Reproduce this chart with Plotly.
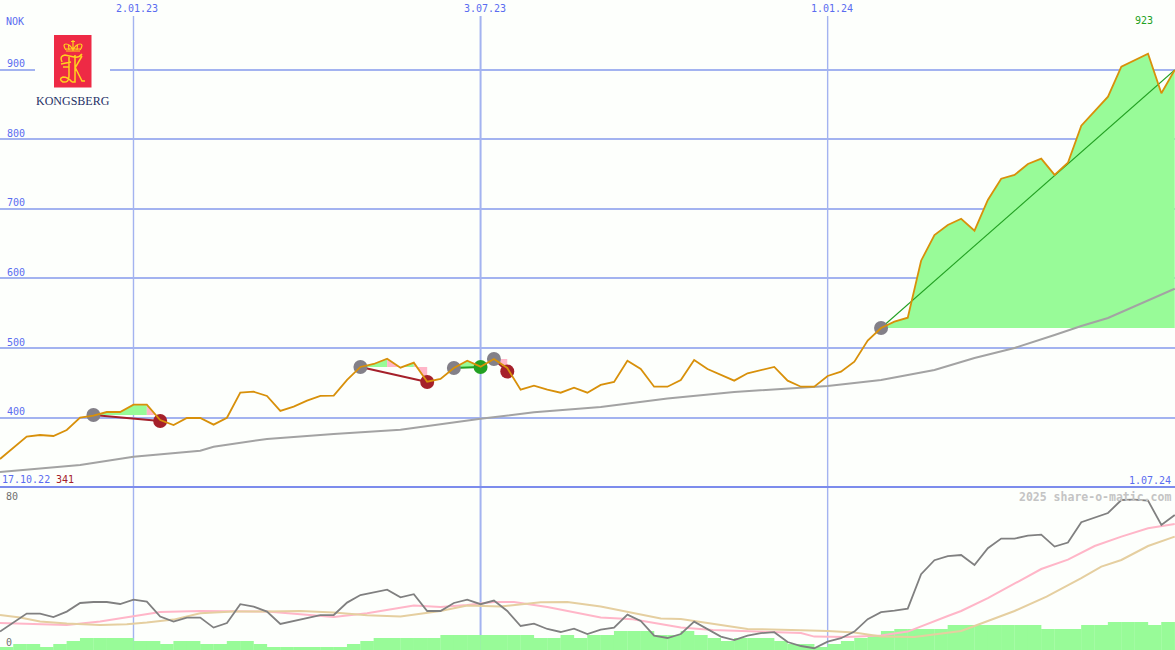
import plotly.graph_objects as go

# ---- data (x = week index, 0 = 17.10.22, 88 = 1.07.24)
price = [340.3,356.1,372.4,374.8,373.4,382.0,399.7,402.6,407.9,407.9,418.4,418.4,396.4,389.2,399.3,399.3,
         389.7,399.7,435.7,437.1,431.0,409.4,415.6,424.2,431.0,431.4,454.0,472.7,477.0,484.6,471.7,478.9,
         451.5,455.4,471.2,481.7,473.1,484.2,471.2,440.0,445.8,440.0,435.7,442.9,435.7,446.8,451.1,481.7,
         469.8,444.3,444.3,453.9,482.8,469.8,461.2,453.0,463.6,468.4,472.7,453.0,444.3,444.3,459.7,465.9,
         480.3,510.6,528.8,537.9,543.6,625.6,662.6,677.0,686.0,668.8,713.0,743.6,749.0,764.8,772.4,749.0,
         766.6,819.9,840.0,861.6,904.7,914.4,923.5,866.5,900.0]
ma_x = [0,6,10,15,16,20,25,30,36,40,45,50,55,62,66,70,73,76,79,81,83,86,88]
ma_y = [321.6,331.7,343.6,352.3,358.0,369.1,376.3,382.5,398.3,407.5,415.0,427.3,436.7,445.3,453.9,468.4,
        485.6,500.0,518.7,531.7,543.2,569.1,585.3]
osc = [9.2,13.9,18.2,18.2,16.5,19.2,23.5,24.0,24.0,23.0,25.2,24.2,16.7,14.2,16.2,16.2,11.2,13.5,22.9,21.7,
       19.2,13.0,14.5,16.2,17.4,17.5,23.7,27.5,29.0,30.2,26.3,27.9,19.5,19.5,23.5,25.2,22.9,24.7,19.5,12.0,
       13.2,10.5,9.0,10.7,8.0,10.2,11.2,17.7,14.5,7.2,6.0,8.0,14.2,10.5,6.7,5.0,7.2,8.4,8.9,4.0,2.0,0.9,4.2,
       5.9,9.2,15.4,18.9,19.7,20.7,37.9,44.9,46.9,47.5,42.5,50.9,55.7,55.7,57.2,57.7,51.7,53.7,63.9,66.2,
       68.5,75.0,75.2,74.7,62.5,67.5]
pink_x = [0,2.5,5,7.5,10,12,15,20,22.5,25,27.5,30,31,33,35,37,38.5,41,43,45,47.4,49,51,53.4,56,60,61,63.4,66,
          68,71,72,74,76,78,80,82,84,86,88]
pink_y = [13.5,12.9,12.5,14.2,16.9,19.0,19.5,19.2,17.9,16.5,18.4,21.2,22.2,21.5,22.5,24.0,24.0,21.5,18.9,16.2,
          15.4,13.7,11.2,10.0,9.5,8.5,6.7,6.5,7.2,9.2,17.0,19.5,25.9,33.4,40.5,45.2,52.0,56.7,60.9,63.0]
tan_x = [0,1.5,3,5,7.5,9.5,11,13,15,17.5,20,22.5,25,27.5,30,33,35,37.5,40.5,42.5,45,47.5,49.5,51,54,56,60,62,64,
         66,68.5,72,74,76,78.4,81,82.5,84,86,88]
tan_y = [17.5,16.2,14.2,13.2,12.5,12.9,13.7,15.2,18.4,19.2,19.2,19.5,18.7,17.4,16.8,19.5,22.2,21.7,23.9,24.0,
         21.7,18.4,15.7,15.5,12.5,10.5,9.9,9.5,8.7,6.7,6.5,9.5,14.5,19.5,26.7,35.9,41.7,45.0,52.0,56.7]
volume = [1.5,3,3,1.5,3,4.5,6,6,6,6,4.5,4.5,3,4.5,4.5,3,3,4.5,4.5,3,1.5,1.5,1.5,1.5,1.5,1.5,3,4.5,6,6,6,6,6,
          7.5,7.5,7.5,7.5,7.5,7.5,7.5,6,6,7.5,6,7.5,7.5,9.5,9.5,9.5,7.5,7.5,9.5,7.5,6,4.5,6,6,6,4.5,3,3,1.5,
          3,4.5,6,7.5,9.5,10.5,10.5,10.5,10.5,12.5,12.5,12.5,12.5,12.5,12.5,12.5,10.5,10.5,10.5,12.5,12.5,
          14,14,14,12.5,14,14]

# trades: entry week, exit week, entry price, exit price
trades_in = [7, 27, 34, 37, 66]
trades_out = [12, 32, 36, 38, 88]
trades_entry = [403.6, 472.7, 471.2, 484.2, 528.8]
trades_exit = [395.0, 451.0, 472.7, 466.2, 900.0]
# shaded stretches: first week, last week, level, kind
shade_from = [7, 11, 27, 29, 30, 31, 34, 37, 66]
shade_to = [11, 12, 29, 30, 31, 32, 36, 38, 88]
shade_base = [403.6, 403.6, 472.7, 472.7, 472.7, 472.7, 471.2, 484.2, 528.8]
shade_kind = ["up", "down", "up", "down", "up", "down", "up", "down", "up"]

price_ticks = [400, 500, 600, 700, 800, 900]
date_weeks = [10, 36, 62]
date_labels = ["2.01.23", "3.07.23", "1.01.24"]
date_widths = [1.4, 2, 1.4]

W, H, BG = 1175, 650, "#FDFFFC"
GRID, BLUE, SEP = "#A3B3F0", "#5A6CF0", "#7C8CEC"
UP, DOWN = "#98FB98", "#FFB6C8"
ORANGE, MAGREY = "#D8900A", "#A3A3A3"
RED, GREEN, MARK = "#A5202A", "#22A022", "#838088"
GOLD = "#FFD21E"
MONO = "DejaVu Sans Mono"
weeks = list(range(len(price)))
split = 163 / 650

fig = go.Figure()

for a, b, base, kind in zip(shade_from, shade_to, shade_base, shade_kind):
    fig.add_trace(go.Scatter(x=weeks[a:b + 1] + [b, a], y=price[a:b + 1] + [base, base], mode="none",
                             fill="toself", fillcolor=UP if kind == "up" else DOWN, xaxis="x", yaxis="y"))

fig.add_trace(go.Scatter(x=ma_x, y=ma_y, mode="lines", line=dict(color=MAGREY, width=2), xaxis="x", yaxis="y"))

for a, b, p0, p1 in zip(trades_in, trades_out, trades_entry, trades_exit):
    won = p1 > p0
    closed = b < 88
    fig.add_trace(go.Scatter(x=[a, b], y=[p0, p1], mode="lines",
                             line=dict(color=GREEN if won else RED, width=2 if closed else 1.1), xaxis="x", yaxis="y"))
    fig.add_trace(go.Scatter(x=[a], y=[p0], mode="markers", marker=dict(color=MARK, size=14), xaxis="x", yaxis="y"))
    if closed:
        fig.add_trace(go.Scatter(x=[b], y=[p1], mode="markers", marker=dict(color=GREEN if won else RED, size=14),
                                 xaxis="x", yaxis="y"))

fig.add_trace(go.Scatter(x=weeks, y=price, mode="lines", line=dict(color=ORANGE, width=1.8), xaxis="x", yaxis="y"))

fig.add_trace(go.Bar(x=[w + 0.5 for w in weeks], y=volume, width=1.02, marker=dict(color=UP, line=dict(width=0)),
                     xaxis="x2", yaxis="y2"))
fig.add_trace(go.Scatter(x=pink_x, y=pink_y, mode="lines", line=dict(color=DOWN, width=2), xaxis="x2", yaxis="y2"))
fig.add_trace(go.Scatter(x=tan_x, y=tan_y, mode="lines", line=dict(color="#E5CFA0", width=2), xaxis="x2", yaxis="y2"))
fig.add_trace(go.Scatter(x=weeks, y=osc, mode="lines", line=dict(color="#808080", width=1.8), xaxis="x2", yaxis="y2"))


def px_x(v):
    return v / W


def px_y(v):
    return 1 - v / H


def stroke(cmds, width=1.5):
    """Logo stroke: cmds is a list of (letter, x, y, ...) in page pixels."""
    parts = []
    for c in cmds:
        nums = c[1:]
        pts = [f"{px_x(nums[i]):.5f},{px_y(nums[i + 1]):.5f}" for i in range(0, len(nums), 2)]
        parts.append(c[0] + " " + " ".join(pts))
    return dict(type="path", xref="paper", yref="paper", path=" ".join(parts), layer="above",
                line=dict(color=GOLD, width=width))


shapes = [dict(type="line", xref="x", yref="paper", x0=w, x1=w, y0=0, y1=px_y(16), layer="below",
               line=dict(color=GRID, width=lw)) for w, lw in zip(date_weeks, date_widths)]
shapes.append(dict(type="line", xref="paper", yref="paper", x0=0, x1=1, y0=px_y(487), y1=px_y(487), layer="above",
                   line=dict(color=SEP, width=2)))
shapes.append(dict(type="rect", xref="paper", yref="paper", x0=px_x(35), x1=px_x(110), y0=px_y(76), y1=px_y(64),
                   layer="above", fillcolor=BG, line=dict(width=0)))
shapes.append(dict(type="rect", xref="paper", yref="paper", x0=px_x(54), x1=px_x(91.5), y0=px_y(87.5), y1=px_y(35),
                   layer="above", fillcolor="#EE2A45", line=dict(width=0)))
# crown
shapes.append(stroke([("M", 66, 51), ("L", 80, 51), ("M", 66, 49), ("L", 80, 49), ("M", 66, 50), ("Q", 62, 44, 66, 44),
                      ("Q", 70, 44, 73, 50), ("Q", 76, 44, 80, 44), ("Q", 84, 44, 80, 50), ("M", 73, 50), ("L", 73, 40),
                      ("M", 71, 41.5), ("L", 75, 41.5), ("M", 69, 50), ("L", 68.5, 45), ("M", 77, 50), ("L", 77.5, 45)],
                     1.2))
# monogram
shapes.append(stroke([("M", 62, 62), ("Q", 59, 56, 65, 55), ("L", 74, 57), ("Q", 79, 58, 82, 54),
                      ("M", 61, 64), ("L", 71, 62), ("M", 69, 56), ("L", 69, 76), ("Q", 69, 83, 63, 82),
                      ("Q", 58, 79, 63, 77), ("Q", 68, 77, 72, 82), ("M", 75, 55), ("L", 75, 82), ("L", 72, 82),
                      ("M", 75, 68), ("L", 82, 56), ("M", 75, 67), ("L", 82, 81), ("L", 85, 81),
                      ("M", 63, 67), ("L", 69, 67)], 1.5))

ann = []


def text(x, y, s, color=BLUE, size=10, family=MONO, anchor="left"):
    ann.append(dict(xref="paper", yref="paper", x=px_x(x), y=px_y(y), text=s, showarrow=False, xanchor=anchor,
                    yanchor="middle", font=dict(color=color, size=size, family=family), borderpad=0))


for w, s in zip(date_weeks, date_labels):
    ann.append(dict(xref="x", yref="paper", x=w, y=px_y(8), text=s, showarrow=False, xanchor="center", yanchor="middle",
                    xshift=4, font=dict(color=BLUE, size=10, family=MONO)))
for t in price_ticks:
    ann.append(dict(xref="paper", yref="y", x=px_x(5), y=t, text=str(t), showarrow=False, xanchor="left",
                    yanchor="middle", yshift=6, font=dict(color=BLUE, size=10, family=MONO)))
text(5, 21.5, "NOK")
text(1, 479, "17.10.22")
text(55, 479, "341", color=RED)
text(1172, 480, "1.07.24", anchor="right")
text(1134, 21, "923", color=GREEN)
text(5, 496, "80", color="#707070")
text(5, 642, "0", color="#707070")
text(1172, 497, "<b>2025 share-o-matic.com</b>", color="#C4C4C4", size=11.5, anchor="right")
text(72.7, 101, "KONGSBERG", color="#1F2F66", size=12, family="Liberation Serif", anchor="center")

axis_x = dict(range=[0, 88.02], showgrid=False, zeroline=False, showticklabels=False, ticks="", showline=False)
fig.update_layout(
    width=W, height=H, margin=dict(l=0, r=0, t=0, b=0), autosize=False, showlegend=False, hovermode=False,
    paper_bgcolor=BG, plot_bgcolor=BG, barmode="overlay", shapes=shapes, annotations=ann,
    xaxis=dict(axis_x, domain=[0, 1], anchor="y"),
    xaxis2=dict(axis_x, domain=[0, 1], anchor="y2"),
    yaxis=dict(domain=[split, 1], range=[300, 1000.7], tickvals=price_ticks, showgrid=True, gridcolor=GRID, gridwidth=2,
               zeroline=False, showticklabels=False, ticks="", anchor="x"),
    yaxis2=dict(domain=[0, split], range=[0, 81.5], showgrid=False, zeroline=False, showticklabels=False, ticks="",
                anchor="x2"),
)
fig.write_html("out.html", config={"displayModeBar": False},
               post_script="document.body.style.margin='0';document.body.style.overflow='hidden';")
